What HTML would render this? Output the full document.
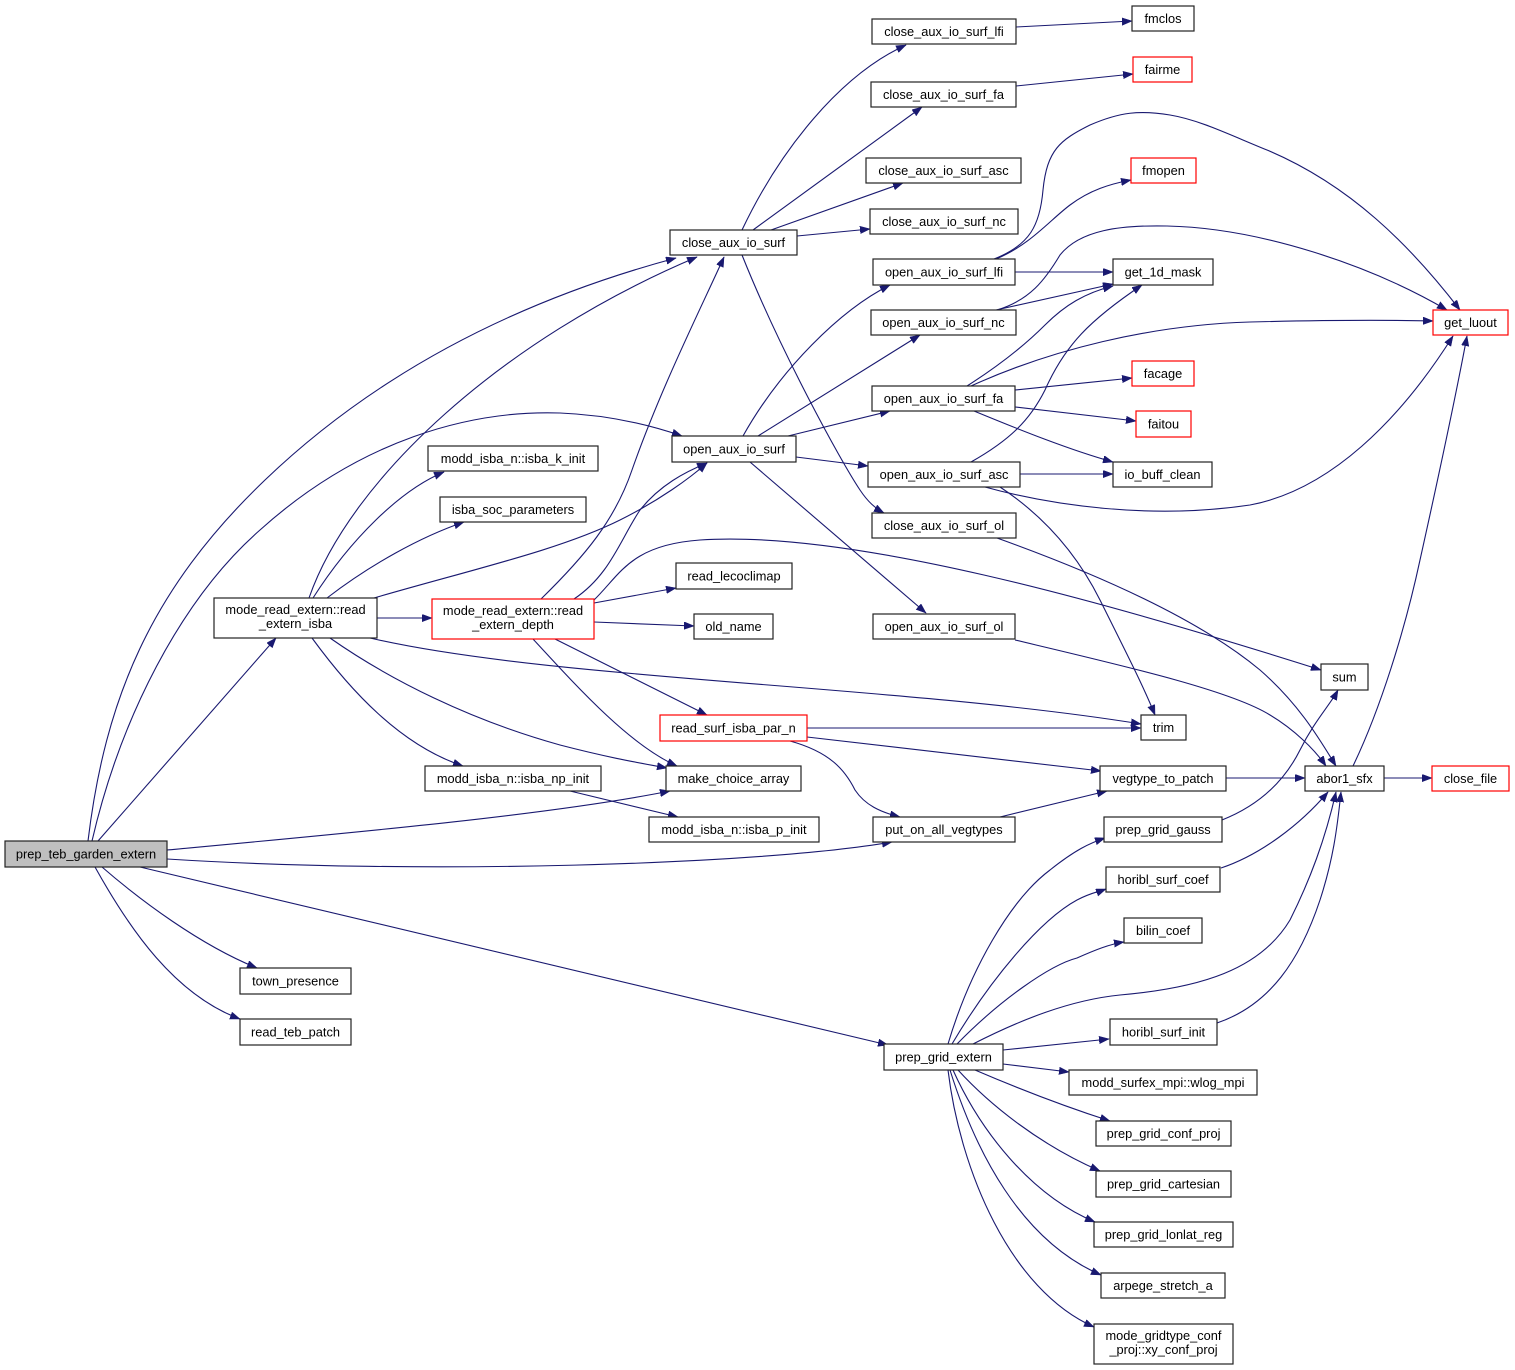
<!DOCTYPE html>
<html><head><meta charset="utf-8"><style>
html,body{margin:0;padding:0;background:#fff;}
svg{display:block;}
text{font-family:"Liberation Sans",Arial,sans-serif;font-size:12.8px;fill:#000;text-anchor:middle;}
.e{fill:none;stroke:#191970;stroke-width:1.1;}
.b{fill:#fff;stroke:#222;stroke-width:1.2;}
.r{fill:#fff;stroke:#ff0000;stroke-width:1.2;}
.g{fill:#bfbfbf;stroke:#222;stroke-width:1.2;}
</style></head><body>
<svg width="1515" height="1370" viewBox="0 0 1515 1370" xmlns="http://www.w3.org/2000/svg">
<defs>
<marker id="a" markerUnits="userSpaceOnUse" markerWidth="11" markerHeight="8" refX="10" refY="3.75" orient="auto">
<path d="M0,0 L10,3.75 L0,7.5 z" fill="#191970" stroke="#191970" stroke-width="0.5"/>
</marker>
</defs>
<g marker-end="url(#a)">
<path class="e" d="M88,841 C105,700 150,590 265,480 C380,370 520,300 676,258"/>
<path class="e" d="M92,841 C120,720 180,600 260,530 C360,440 470,410 560,413 C610,415 650,425 682,436"/>
<path class="e" d="M98,841 L276,638"/>
<path class="e" d="M167,850 C350,833 550,815 670,791"/>
<path class="e" d="M167,859 C420,875 760,865 892,842"/>
<path class="e" d="M140,867 L888,1045"/>
<path class="e" d="M102,867 C140,900 200,945 257,968"/>
<path class="e" d="M95,867 C130,930 175,995 240,1019"/>
<path class="e" d="M309,598 C350,480 500,340 697,257"/>
<path class="e" d="M313,598 C350,540 400,490 444,472"/>
<path class="e" d="M327,598 C370,565 420,537 464,522"/>
<path class="e" d="M374,598 C470,570 560,550 620,520 C660,500 690,478 707,463"/>
<path class="e" d="M377,618 L432,618"/>
<path class="e" d="M370,638 C550,680 900,685 1141,724"/>
<path class="e" d="M312,638 C350,690 400,745 463,766"/>
<path class="e" d="M330,638 C390,680 470,720 560,745 C610,758 640,763 667,768"/>
<path class="e" d="M541,599 C585,556 615,520 632,470 C660,390 700,310 724,257"/>
<path class="e" d="M574,599 C610,575 620,540 640,510 C660,485 685,472 707,463"/>
<path class="e" d="M594,600 C620,575 630,545 700,540 C850,530 1100,600 1321,670"/>
<path class="e" d="M594,603 L676,588"/>
<path class="e" d="M594,622 L694,626"/>
<path class="e" d="M555,639 L707,715"/>
<path class="e" d="M533,639 C580,690 630,745 677,766"/>
<path class="e" d="M742,230 C780,150 840,75 906,45"/>
<path class="e" d="M753,230 L922,107"/>
<path class="e" d="M771,230 L903,183"/>
<path class="e" d="M797,236 L870,229"/>
<path class="e" d="M742,255 C780,350 840,460 860,490 C868,502 875,508 884,513"/>
<path class="e" d="M743,436 C780,370 840,310 890,285"/>
<path class="e" d="M758,436 L920,335"/>
<path class="e" d="M788,436 L890,411"/>
<path class="e" d="M796,457 L868,466"/>
<path class="e" d="M750,462 L926,613"/>
<path class="e" d="M1016,27 L1132,21"/>
<path class="e" d="M1016,86 L1133,74"/>
<path class="e" d="M996,259 C1030,245 1050,220 1070,205 C1090,190 1110,184 1131,180"/>
<path class="e" d="M994,259 C1030,245 1040,225 1043,190 C1047,150 1060,140 1090,125 C1120,112 1140,110 1170,115 C1200,120 1230,135 1267,150 C1350,185 1410,245 1460,310"/>
<path class="e" d="M1015,272 L1113,272"/>
<path class="e" d="M996,310 L1113,284"/>
<path class="e" d="M997,310 C1030,300 1045,280 1060,255 C1080,230 1120,225 1167,226 C1260,228 1370,265 1447,310"/>
<path class="e" d="M967,386 C1000,365 1025,345 1045,325 C1065,305 1085,293 1113,286"/>
<path class="e" d="M971,386 C1050,350 1150,325 1250,322 C1330,320 1390,320 1433,321"/>
<path class="e" d="M1015,390 L1132,378"/>
<path class="e" d="M1015,407 L1136,421"/>
<path class="e" d="M974,411 C1020,430 1070,450 1113,462"/>
<path class="e" d="M971,462 C1010,440 1030,420 1045,390 C1065,345 1090,320 1142,285"/>
<path class="e" d="M1020,474 L1113,474"/>
<path class="e" d="M985,487 C1050,505 1150,520 1250,505 C1330,490 1400,420 1453,336"/>
<path class="e" d="M1000,487 C1050,520 1080,560 1100,600 C1130,660 1145,690 1155,715"/>
<path class="e" d="M997,538 C1100,575 1200,620 1260,670 C1300,705 1320,740 1336,766"/>
<path class="e" d="M1015,640 C1120,665 1230,690 1270,715 C1295,730 1315,750 1326,766"/>
<path class="e" d="M807,728 L1141,728"/>
<path class="e" d="M807,737 L1101,771"/>
<path class="e" d="M790,741 C830,752 845,770 855,790 C865,805 880,812 900,817"/>
<path class="e" d="M1000,817 L1107,791"/>
<path class="e" d="M1226,778 L1305,778"/>
<path class="e" d="M1384,778 L1432,778"/>
<path class="e" d="M1353,766 C1380,710 1405,630 1420,560 C1440,470 1455,400 1467,336"/>
<path class="e" d="M1222,820 C1260,805 1285,780 1300,750 C1315,720 1330,705 1338,690"/>
<path class="e" d="M1221,868 C1260,855 1300,825 1328,792"/>
<path class="e" d="M570,791 L678,817"/>
<path class="e" d="M948,1044 C970,970 1010,900 1050,870 C1075,850 1090,843 1105,838"/>
<path class="e" d="M952,1044 C990,980 1040,920 1077,900 C1090,893 1098,892 1106,889"/>
<path class="e" d="M957,1044 C1000,1000 1050,965 1077,958 C1095,950 1110,944 1124,942"/>
<path class="e" d="M973,1044 C1020,1020 1070,1000 1120,995 C1200,988 1260,970 1290,920 C1310,880 1325,840 1336,792"/>
<path class="e" d="M1003,1050 L1109,1039"/>
<path class="e" d="M1003,1064 L1069,1072"/>
<path class="e" d="M975,1070 C1010,1085 1060,1105 1110,1121"/>
<path class="e" d="M958,1070 C990,1105 1040,1145 1100,1171"/>
<path class="e" d="M953,1070 C980,1130 1030,1195 1095,1222"/>
<path class="e" d="M950,1070 C975,1150 1020,1240 1101,1275"/>
<path class="e" d="M948,1070 C960,1170 1010,1290 1094,1327"/>
<path class="e" d="M1217,1023 C1270,1005 1300,960 1320,900 C1333,860 1337,830 1341,792"/>
</g>

<rect class="g" x="5" y="841" width="162" height="26"/><text x="86" y="858.5">prep_teb_garden_extern</text>
<rect class="b" x="214" y="598" width="163" height="40"/><text x="295.5" y="614">mode_read_extern::read</text><text x="295.5" y="628">_extern_isba</text>
<rect class="r" x="432" y="599" width="162" height="40"/><text x="513" y="615">mode_read_extern::read</text><text x="513" y="629">_extern_depth</text>
<rect class="b" x="428" y="446" width="170" height="25"/><text x="513" y="463">modd_isba_n::isba_k_init</text>
<rect class="b" x="440" y="497" width="146" height="25"/><text x="513" y="514">isba_soc_parameters</text>
<rect class="b" x="670" y="230" width="127" height="25"/><text x="733.5" y="247">close_aux_io_surf</text>
<rect class="b" x="672" y="436" width="124" height="26"/><text x="734" y="453.5">open_aux_io_surf</text>
<rect class="b" x="676" y="563" width="116" height="26"/><text x="734" y="580.5">read_lecoclimap</text>
<rect class="b" x="694" y="614" width="79" height="25"/><text x="733.5" y="631">old_name</text>
<rect class="r" x="660" y="715" width="147" height="26"/><text x="733.5" y="732.5">read_surf_isba_par_n</text>
<rect class="b" x="425" y="766" width="176" height="25"/><text x="513" y="783">modd_isba_n::isba_np_init</text>
<rect class="b" x="666" y="766" width="135" height="25"/><text x="733.5" y="783">make_choice_array</text>
<rect class="b" x="649" y="817" width="170" height="25"/><text x="734" y="834">modd_isba_n::isba_p_init</text>
<rect class="b" x="872" y="19" width="144" height="25"/><text x="944" y="36">close_aux_io_surf_lfi</text>
<rect class="b" x="1132" y="6" width="62" height="25"/><text x="1163" y="23">fmclos</text>
<rect class="b" x="871" y="82" width="145" height="25"/><text x="943.5" y="99">close_aux_io_surf_fa</text>
<rect class="r" x="1133" y="57" width="59" height="25"/><text x="1162.5" y="74">fairme</text>
<rect class="b" x="866" y="158" width="155" height="25"/><text x="943.5" y="175">close_aux_io_surf_asc</text>
<rect class="r" x="1131" y="158" width="65" height="25"/><text x="1163.5" y="175">fmopen</text>
<rect class="b" x="870" y="209" width="148" height="25"/><text x="944" y="226">close_aux_io_surf_nc</text>
<rect class="b" x="873" y="259" width="142" height="26"/><text x="944" y="276.5">open_aux_io_surf_lfi</text>
<rect class="b" x="1113" y="259" width="100" height="26"/><text x="1163" y="276.5">get_1d_mask</text>
<rect class="b" x="871" y="310" width="145" height="25"/><text x="943.5" y="327">open_aux_io_surf_nc</text>
<rect class="r" x="1433" y="310" width="75" height="25"/><text x="1470.5" y="327">get_luout</text>
<rect class="r" x="1132" y="361" width="62" height="25"/><text x="1163" y="378">facage</text>
<rect class="b" x="872" y="386" width="143" height="25"/><text x="943.5" y="403">open_aux_io_surf_fa</text>
<rect class="r" x="1136" y="411" width="55" height="26"/><text x="1163.5" y="428.5">faitou</text>
<rect class="b" x="868" y="462" width="152" height="25"/><text x="944" y="479">open_aux_io_surf_asc</text>
<rect class="b" x="1113" y="462" width="99" height="25"/><text x="1162.5" y="479">io_buff_clean</text>
<rect class="b" x="872" y="513" width="144" height="25"/><text x="944" y="530">close_aux_io_surf_ol</text>
<rect class="b" x="873" y="614" width="142" height="25"/><text x="944" y="631">open_aux_io_surf_ol</text>
<rect class="b" x="1321" y="664" width="47" height="26"/><text x="1344.5" y="681.5">sum</text>
<rect class="b" x="1141" y="715" width="45" height="25"/><text x="1163.5" y="732">trim</text>
<rect class="b" x="1100" y="766" width="126" height="25"/><text x="1163" y="783">vegtype_to_patch</text>
<rect class="b" x="1305" y="766" width="79" height="25"/><text x="1344.5" y="783">abor1_sfx</text>
<rect class="r" x="1432" y="766" width="77" height="25"/><text x="1470.5" y="783">close_file</text>
<rect class="b" x="873" y="817" width="142" height="25"/><text x="944" y="834">put_on_all_vegtypes</text>
<rect class="b" x="1104" y="817" width="118" height="25"/><text x="1163" y="834">prep_grid_gauss</text>
<rect class="b" x="1106" y="867" width="114" height="25"/><text x="1163" y="884">horibl_surf_coef</text>
<rect class="b" x="1124" y="918" width="78" height="25"/><text x="1163" y="935">bilin_coef</text>
<rect class="b" x="1110" y="1019" width="107" height="26"/><text x="1163.5" y="1036.5">horibl_surf_init</text>
<rect class="b" x="884" y="1044" width="119" height="26"/><text x="943.5" y="1061.5">prep_grid_extern</text>
<rect class="b" x="1069" y="1070" width="188" height="25"/><text x="1163" y="1087">modd_surfex_mpi::wlog_mpi</text>
<rect class="b" x="1096" y="1121" width="135" height="25"/><text x="1163.5" y="1138">prep_grid_conf_proj</text>
<rect class="b" x="1096" y="1171" width="135" height="26"/><text x="1163.5" y="1188.5">prep_grid_cartesian</text>
<rect class="b" x="1094" y="1222" width="139" height="25"/><text x="1163.5" y="1239">prep_grid_lonlat_reg</text>
<rect class="b" x="1101" y="1273" width="124" height="25"/><text x="1163" y="1290">arpege_stretch_a</text>
<rect class="b" x="1094" y="1324" width="139" height="40"/><text x="1163.5" y="1340">mode_gridtype_conf</text><text x="1163.5" y="1354">_proj::xy_conf_proj</text>
<rect class="b" x="240" y="968" width="111" height="26"/><text x="295.5" y="985.5">town_presence</text>
<rect class="b" x="240" y="1019" width="111" height="26"/><text x="295.5" y="1036.5">read_teb_patch</text>
</svg>
</body></html>
